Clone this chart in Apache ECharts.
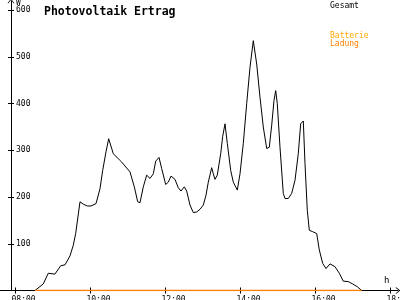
<!DOCTYPE html>
<html>
<head>
<meta charset="utf-8">
<script src="https://cdn.jsdelivr.net/npm/echarts@6/dist/echarts.min.js"></script>
<style>html,body{margin:0;padding:0;background:#fff}#c{width:400px;height:300px}</style>
</head>
<body>
<div id="c"></div>
<script>
// ---- data ----
const gesamtHours = [8.52, 8.74, 8.875, 9.05, 9.205, 9.32, 9.453, 9.541, 9.605, 9.72, 9.808, 9.915, 10.013, 10.147, 10.253, 10.325, 10.413, 10.485, 10.608, 10.768, 10.832, 11.053, 11.099, 11.168, 11.259, 11.32, 11.408, 11.499, 11.587, 11.675, 11.739, 11.827, 11.899, 12.005, 12.075, 12.147, 12.253, 12.341, 12.413, 12.501, 12.565, 12.653, 12.741, 12.832, 12.92, 13.008, 13.08, 13.141, 13.232, 13.275, 13.32, 13.381, 13.472, 13.525, 13.587, 13.648, 13.739, 13.808, 13.915, 13.987, 14.075, 14.165, 14.253, 14.341, 14.432, 14.52, 14.608, 14.699, 14.768, 14.832, 14.893, 14.939, 14.981, 15.053, 15.141, 15.187, 15.275, 15.365, 15.453, 15.541, 15.605, 15.675, 15.72, 15.781, 15.835, 15.925, 16.032, 16.101, 16.192, 16.28, 16.387, 16.52, 16.635, 16.741, 16.875, 16.992, 17.115, 17.232];
const gesamtWatts = [0, 14, 37, 35, 53, 55, 74, 97, 122, 190, 185, 181, 181, 186, 218, 257, 297, 325, 293, 280, 275, 254, 250, 222, 190, 188, 222, 247, 240, 250, 277, 285, 261, 227, 232, 245, 238, 220, 213, 222, 213, 183, 167, 168, 174, 183, 204, 232, 263, 250, 238, 247, 293, 330, 357, 315, 257, 232, 215, 250, 315, 400, 478, 535, 485, 414, 350, 304, 307, 354, 407, 428, 400, 307, 208, 197, 197, 208, 236, 293, 357, 363, 272, 172, 129, 126, 122, 87, 58, 47, 57, 51, 37, 20, 19, 14, 8, 0];
const ladungHours = [8.52, 17.232];
const ladungWatts = [0, 0];
const xTickHours = [8, 10, 12, 14, 16, 18];
const yTickWatts = [100, 200, 300, 400, 500, 600];
const titleText = 'Photovoltaik Ertrag';
const seriesNames = ['Gesamt', 'Batterie', 'Ladung'];

// ---- layout ----
const X_MIN = 7.5867, X_MAX = 18.2, Y_MIN = 0, Y_MAX = 620;
const LABEL_SHIFT = 4 / 37.5;
const mono = 'DejaVu Sans Mono';
const arrowPath = 'path://M0,5 L4,0 L8,5 L7,5 L4,1.4 L1,5 Z';
const fmtHour = v => (v < 10 ? '0' : '') + Math.round(v) + ':00';

const chart = echarts.init(document.getElementById('c'), null, {renderer: 'canvas'});
const baseX = {type: 'value', position: 'bottom', min: X_MIN, max: X_MAX, splitLine: {show: false}, axisLine: {onZero: false, show: false}, axisLabel: {show: false}, axisTick: {show: false}};
const baseY = {type: 'value', position: 'left', min: Y_MIN, max: Y_MAX, offset: -11, splitLine: {show: false}, axisLine: {onZero: false, show: false}, axisLabel: {show: false}, axisTick: {show: false}};

chart.setOption({
  animation: false,
  backgroundColor: '#ffffff',
  title: {text: titleText, left: 39, top: 1, textStyle: {fontFamily: mono, fontWeight: 'bold', fontSize: 11.5, color: '#000'}},
  grid: {left: 0, right: 2, top: 1, bottom: 9.5, containLabel: false, outerBoundsMode: 'none'},
  xAxis: [
    Object.assign({}, baseX, {
      axisLine: {show: true, onZero: false, lineStyle: {color: '#000', width: 1}, symbol: ['none', arrowPath], symbolSize: [7, 5]},
      axisTick: {show: true, inside: false, length: 3, lineStyle: {color: '#000'}, customValues: xTickHours},
      name: 'h', nameLocation: 'end', nameGap: -14,
      nameTextStyle: {fontFamily: mono, fontSize: 9, color: '#000', verticalAlign: 'bottom', padding: [0, 0, 5, 0]}
    }),
    Object.assign({}, baseX, {
      axisTick: {show: true, inside: true, length: 3, lineStyle: {color: '#000'}, customValues: xTickHours}
    }),
    Object.assign({}, baseX, {
      min: X_MIN + LABEL_SHIFT, max: X_MAX + LABEL_SHIFT,
      axisLabel: {show: true, customValues: xTickHours, formatter: fmtHour, align: 'left', margin: 5, fontFamily: mono, fontSize: 8, color: '#000', hideOverlap: false}
    })
  ],
  yAxis: [
    Object.assign({}, baseY, {
      axisLine: {show: true, onZero: false, lineStyle: {color: '#000', width: 1}, symbol: ['none', arrowPath], symbolSize: [7, 5]},
      axisTick: {show: true, inside: false, length: 3, lineStyle: {color: '#000'}, customValues: yTickWatts},
      axisLabel: {show: true, inside: true, margin: 5, customValues: yTickWatts, fontFamily: mono, fontSize: 8, color: '#000'},
      name: 'W', nameLocation: 'end', nameGap: -1,
      nameTextStyle: {fontFamily: mono, fontSize: 8, color: '#000', align: 'left', verticalAlign: 'top', padding: [0, 0, 0, 5]}
    }),
    Object.assign({}, baseY, {
      axisTick: {show: true, inside: true, length: 3, lineStyle: {color: '#000'}, customValues: yTickWatts}
    })
  ],
  graphic: [
    {type: 'text', left: 330, top: 2, style: {text: seriesNames[0], fill: '#000', font: '8px "DejaVu Sans Mono"'}},
    {type: 'text', left: 330, top: 32, style: {text: seriesNames[1], fill: '#ffa800', font: '8px "DejaVu Sans Mono"'}},
    {type: 'text', left: 330, top: 40, style: {text: seriesNames[2], fill: '#ff8000', font: '8px "DejaVu Sans Mono"'}}
  ],
  series: [
    {name: 'Gesamt', type: 'line', xAxisIndex: 0, yAxisIndex: 0, showSymbol: false, smooth: false,
     lineStyle: {color: '#000', width: 1}, data: gesamtHours.map((h, i) => [h, gesamtWatts[i]])},
    {name: 'Batterie Ladung', type: 'line', xAxisIndex: 0, yAxisIndex: 0, showSymbol: false,
     lineStyle: {color: '#ff8000', width: 1.5}, data: ladungHours.map((h, i) => [h, ladungWatts[i]])}
  ]
});
</script>
</body>
</html>
